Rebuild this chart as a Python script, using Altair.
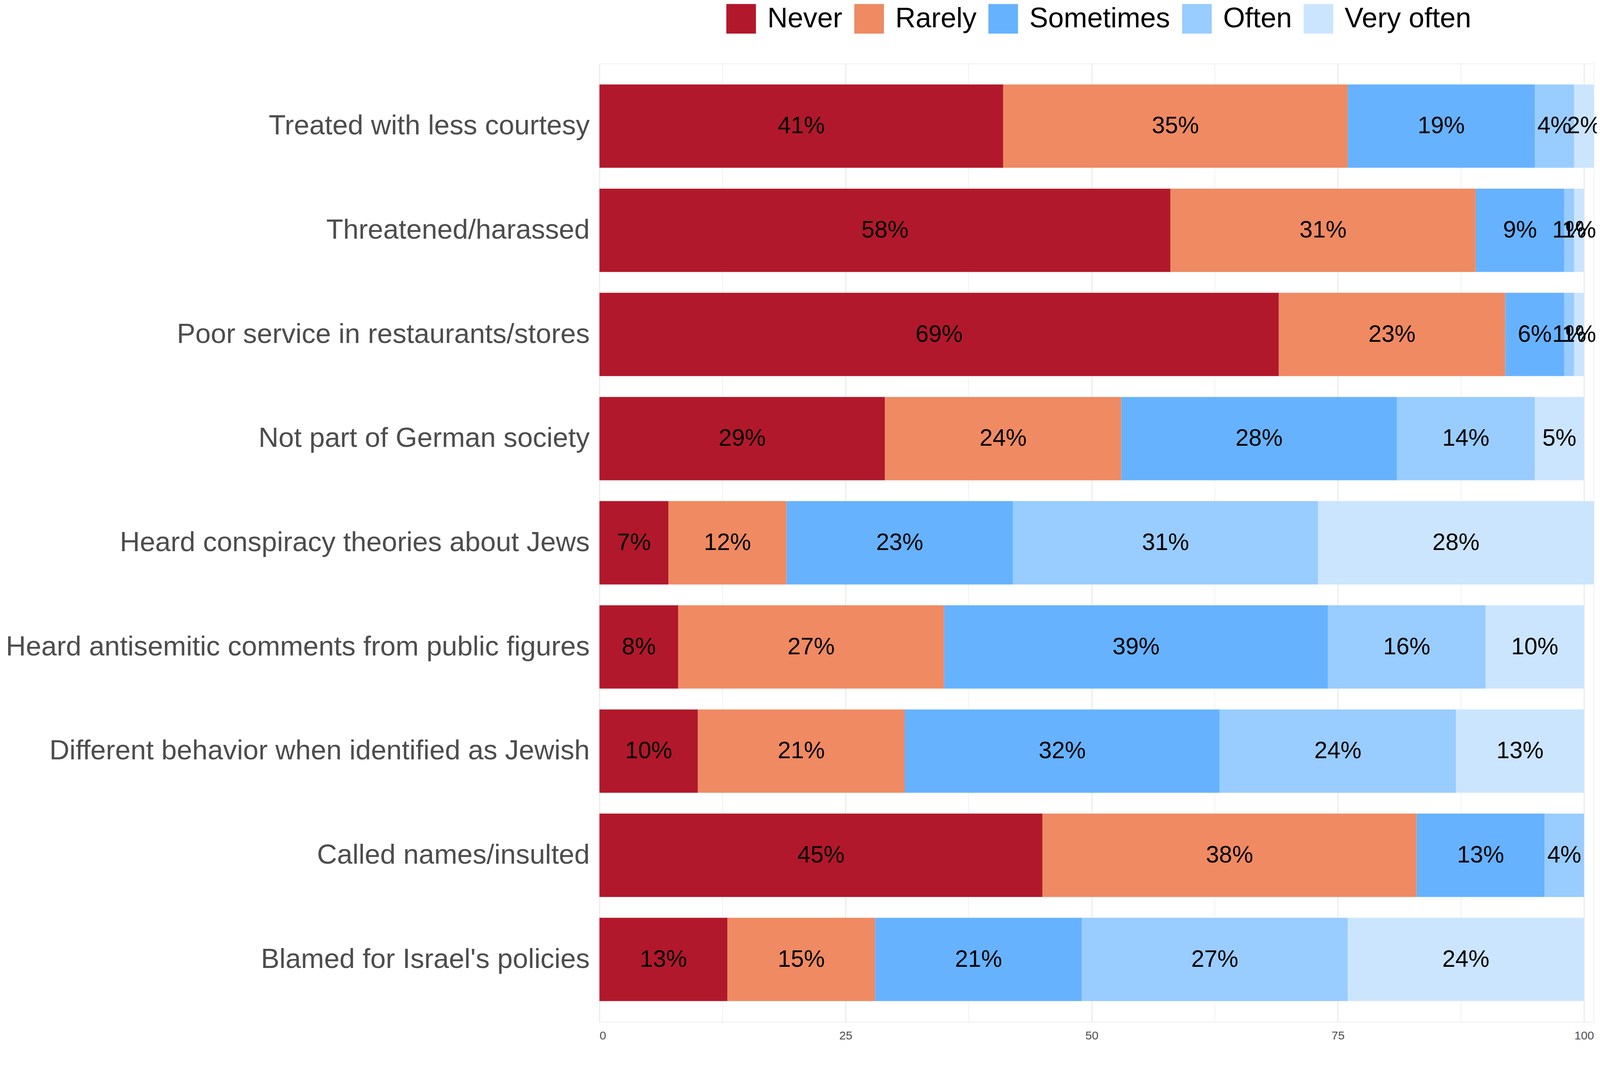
import altair as alt
import pandas as pd

categories = [
    "Treated with less courtesy",
    "Threatened/harassed",
    "Poor service in restaurants/stores",
    "Not part of German society",
    "Heard conspiracy theories about Jews",
    "Heard antisemitic comments from public figures",
    "Different behavior when identified as Jewish",
    "Called names/insulted",
    "Blamed for Israel's policies",
]
levels = ["Never", "Rarely", "Sometimes", "Often", "Very often"]
colors = ["#B2182B", "#EF8A62", "#66B2FF", "#99CCFF", "#CCE5FF"]

never = [41, 58, 69, 29, 7, 8, 10, 45, 13]
rarely = [35, 31, 23, 24, 12, 27, 21, 38, 15]
sometimes = [19, 9, 6, 28, 23, 39, 32, 13, 21]
often = [4, 1, 1, 14, 31, 16, 24, 4, 27]
very_often = [2, 1, 1, 5, 28, 10, 13, 0, 24]

series = [never, rarely, sometimes, often, very_often]
rows = []
for li, (lev, vals) in enumerate(zip(levels, series)):
    for c, v in zip(categories, vals):
        if v > 0:
            rows.append({"item": c, "level": lev, "ord": li, "value": v, "label": f"{v}%"})
df = pd.DataFrame(rows)

FONT = "Liberation Sans"
W, H = 2618, 2523

base = alt.Chart(df).transform_stack(
    stack="value", as_=["x0", "x1"], groupby=["item"], sort=[alt.SortField("ord")]
).transform_calculate(mid="(datum.x0 + datum.x1) / 2")

xscale = alt.Scale(domain=[0, 101], nice=False, zero=False)
yscale = alt.Scale(paddingInner=0.2, paddingOuter=0.2)

bars = base.mark_bar().encode(
    x=alt.X("x0:Q", scale=xscale,
            axis=alt.Axis(values=[0, 25, 50, 75, 100], title=None, domain=False, ticks=False,
                          labelFontSize=31, labelColor="#4D4D4D", labelFont=FONT, labelPadding=22,
                          grid=True, gridColor="#EBEBEB", gridWidth=3)),
    x2="x1:Q",
    y=alt.Y("item:N", sort=categories, scale=yscale,
            axis=alt.Axis(title=None, domain=False, ticks=False, labelFontSize=73,
                          labelColor="#4D4D4D", labelFont=FONT, labelPadding=26,
                          labelLimit=4000, grid=False)),
    color=alt.Color("level:N", scale=alt.Scale(domain=levels, range=colors),
                    legend=alt.Legend(title=None, orient="none", direction="horizontal",
                                      legendX=334, legendY=-157, symbolType="square",
                                      symbolSize=6084, symbolStrokeWidth=0, symbolOpacity=1,
                                      labelFontSize=74, labelFont=FONT, labelColor="#000000",
                                      labelLimit=2000,
                                      labelOffset=30, columnPadding=31, padding=0)),
)

text = base.mark_text(fontSize=62, font=FONT, color="#000000", baseline="middle", align="center").encode(
    x=alt.X("mid:Q", scale=xscale),
    y=alt.Y("item:N", sort=categories, scale=yscale),
    text="label:N",
)

minor = alt.Chart(pd.DataFrame({"m": [12.5, 37.5, 62.5, 87.5]})).mark_rule(
    color="#EBEBEB", strokeWidth=1.5
).encode(x=alt.X("m:Q", scale=xscale))

chart = alt.layer(minor, bars, text).properties(
    width=W, height=H,
    autosize=alt.AutoSizeParams(type="none"),
    padding={"left": 1570, "top": 121, "right": 8, "bottom": 50},
).configure_view(stroke=None).configure(background="white")

chart.save("out.html", embed_options={"renderer": "svg", "actions": False})
